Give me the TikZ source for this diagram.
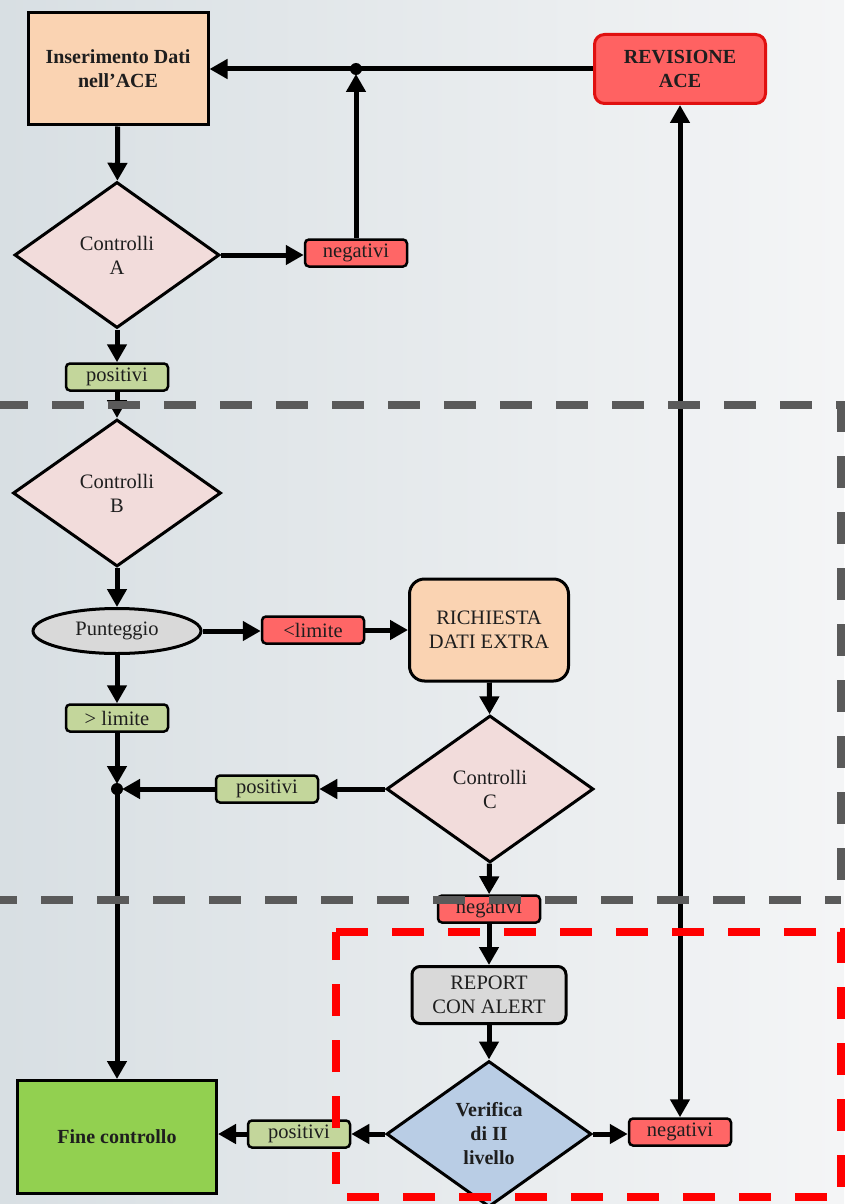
\documentclass[tikz,border=0pt]{standalone}
\usepackage{fontspec}
\setmainfont{Liberation Serif}
\usetikzlibrary{shapes.geometric,arrows.meta}
\definecolor{bgL}{HTML}{D8DFE3}
\definecolor{bgR}{HTML}{F4F5F6}
\definecolor{peach}{HTML}{FAD3B2}
\definecolor{redF}{HTML}{FF6262}
\definecolor{redD}{HTML}{E01010}
\definecolor{redL}{HTML}{FF6666}
\definecolor{pinkF}{HTML}{F2DCDB}
\definecolor{greenL}{HTML}{C3D69B}
\definecolor{greenF}{HTML}{92D050}
\definecolor{greyF}{HTML}{D9D9D9}
\definecolor{blueF}{HTML}{B9CDE5}
\definecolor{txt}{HTML}{1E1E1E}
\definecolor{dashG}{HTML}{5A5A5A}
\definecolor{dashR}{HTML}{FF0000}
\begin{document}
\begin{tikzpicture}[x=1pt,y=-1pt,
  base/.style={font=\fontsize{20.5}{24}\selectfont, text=txt, align=center,
    line width=3pt, draw=black, inner sep=0pt},
  bfont/.style={font=\fontsize{20}{24}\selectfont\bfseries},
  procbox/.style={base, rectangle},
  lbl/.style={base, rectangle, rounded corners=4pt, line width=2.5pt,
    minimum width=102pt, minimum height=27pt},
  dia/.style={base, diamond, fill=pinkF, minimum width=205pt, minimum height=146pt},
  arr/.style={line width=5pt, -{Triangle[length=18pt,width=19pt]}},
  darr/.style={line width=5pt, {Triangle[length=18pt,width=19pt]}-{Triangle[length=18pt,width=19pt]}},
  todot/.style={arr, shorten >=5pt},
  greydash/.style={draw=dashG, line width=8pt, dash pattern=on 32pt off 24pt},
  reddash/.style={draw=dashR, line width=7.5pt, dash pattern=on 32pt off 24pt}
]
\useasboundingbox (0,0) rectangle (844,1204);
\shade[left color=bgL, right color=bgR] (0,0) rectangle (844,1204);

% nodes
\node[procbox, fill=peach, bfont, minimum width=180pt, minimum height=112pt] (ins) at (118,69) {Inserimento Dati\\nell’ACE};
\node[base, rounded corners=10pt, fill=redF, draw=redD, bfont, minimum width=171pt, minimum height=69pt] (rev) at (680,69) {REVISIONE\\ACE};
\node[dia] (ca) at (117,255) {Controlli\\A};
\node[lbl, fill=redL] (negA) at (356,253) {negativi};
\coordinate (J1) at (356,69);
\node[lbl, fill=greenL] (posA) at (117,377) {positivi};
\node[dia, minimum width=208pt, minimum height=147pt] (cb) at (117,493) {Controlli\\B};
\node[base, ellipse, fill=greyF, minimum width=168pt, minimum height=45pt] (punt) at (117,631) {Punteggio};
\node[lbl, fill=redL] (lim) at (313,630) {<limite};
\node[base, rounded corners=15pt, fill=peach, minimum width=159pt, minimum height=102pt] (rich) at (489,630) {RICHIESTA\\DATI EXTRA};
\node[dia, minimum width=207pt, minimum height=147pt] (cc) at (490,789) {Controlli\\C};
\node[lbl, fill=greenL] (posC) at (267,789) {positivi};
\coordinate (J2) at (117,789);
\node[lbl, fill=greenL] (glim) at (117,718) {> limite};
\node[lbl, fill=redL] (negC) at (489,909) {negativi};
\node[base, rounded corners=8pt, fill=greyF, minimum width=154pt, minimum height=57pt] (rep) at (489,995) {REPORT\\CON ALERT};
\node[dia, fill=blueF, bfont] (ver) at (489,1134) {Verifica\\di II\\livello};
\node[lbl, fill=greenL] (posV) at (299,1134) {positivi};
\node[lbl, fill=redL] (negV) at (680,1132) {negativi};
\node[procbox, fill=greenF, bfont, minimum width=199pt, minimum height=113pt] (fine) at (117,1137) {Fine controllo};

% connectors
\draw[arr] (rev.west) -- (ins.east);
\fill (J1) circle (6pt);
\draw[arr] (ins) -- (ca);
\draw[arr] (ca.east) -- (ca.east -| negA.west);
\draw[todot] (negA.north) -- (J1);
\draw[arr] (ca) -- (posA);
\draw[arr] (posA) -- (cb);
\draw[arr] (cb) -- (punt);
\draw[arr] (punt.east) -- (punt.east -| lim.west);
\draw[arr] (lim.east) -- (lim.east -| rich.west);
\draw[arr] (rich) -- (cc);
\draw[arr] (cc.west) -- (posC.east);
\draw[todot] (posC.west) -- (J2);
\draw[arr] (punt) -- (glim);
\draw[todot] (glim) -- (J2);
\fill (J2) circle (6pt);
\draw[arr] (J2) -- (fine);
\draw[arr] (cc) -- (negC);
\draw[arr] (negC) -- (rep);
\draw[arr] (rep) -- (ver);
\draw[arr] (ver.west) -- (posV.east);
\draw[arr] (posV.west) -- (posV.west -| fine.east);
\draw[arr] (ver.east) -- (ver.east -| negV.west);
\draw[darr] (negV.north) -- (rev.south);

% dashed frames
\draw[greydash, dash phase=4pt] (0,405) -- (841,405) -- (841,900);
\draw[greydash, dash phase=15pt] (0,900) -- (841,900);
\draw[reddash] (336,932) -- (841,932) -- (841,1197) -- (336,1197) -- cycle;
\end{tikzpicture}
\end{document}
